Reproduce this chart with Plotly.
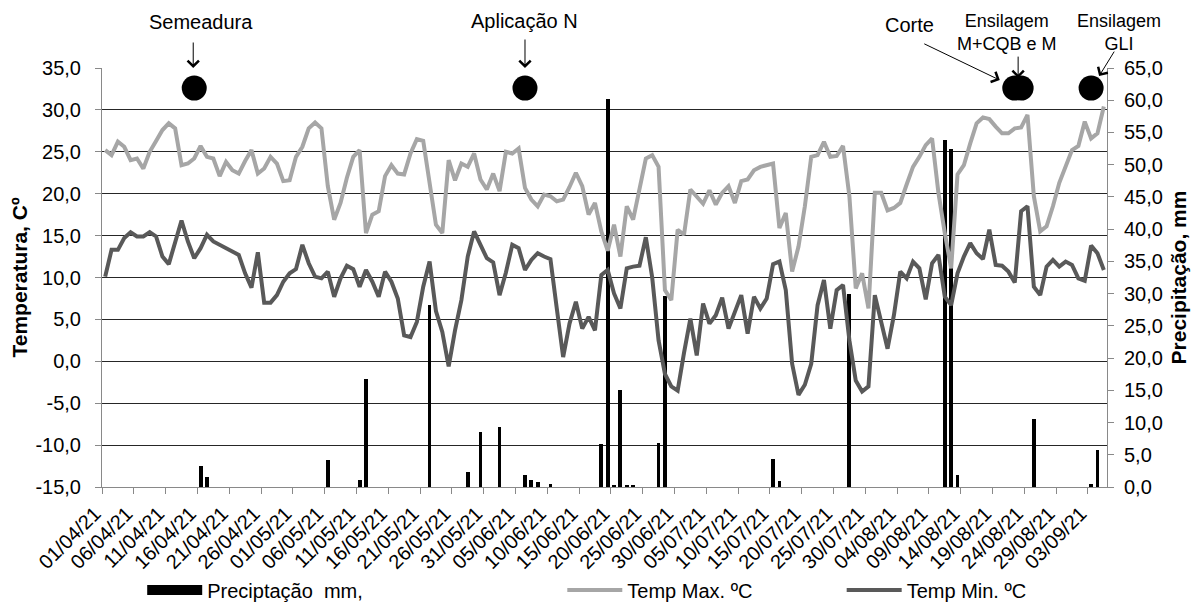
import pandas as pd
import plotly.graph_objects as go

# ---------------- data (daily, 01/04/21 .. 05/09/21) ----------------
start_date = "2021-04-01"

t_max = [25.2, 24.6, 26.2, 25.6, 24.0, 24.2, 23.0, 25.0, 26.3, 27.6,
         28.4, 27.8, 23.4, 23.6, 24.2, 25.7, 24.4, 24.2, 22.1, 23.8,
         22.8, 22.4, 23.9, 25.2, 22.4, 23.0, 24.4, 23.6, 21.5, 21.6,
         24.4, 25.6, 27.8, 28.5, 27.8, 20.9, 16.9, 18.9, 21.9, 24.4,
         25.2, 15.3, 17.5, 17.9, 22.1, 23.4, 22.4, 22.3, 24.8, 26.5,
         26.3, 20.9, 16.3, 15.3, 24.0, 21.6, 23.6, 23.2, 24.8, 21.7,
         20.5, 22.4, 20.3, 25.0, 24.8, 25.4, 20.7, 19.3, 18.5, 19.9,
         19.7, 19.1, 19.3, 20.8, 22.5, 20.9, 17.5, 18.9, 15.5, 13.2,
         16.3, 12.5, 18.5, 16.9, 20.5, 24.2, 24.6, 23.2, 8.5, 7.3,
         15.7, 15.1, 20.5, 19.7, 18.8, 20.4, 18.7, 20.1, 20.9, 18.9,
         21.5, 21.7, 22.8, 23.2, 23.4, 23.6, 15.9, 17.7, 10.7, 13.7,
         18.5, 24.4, 24.6, 26.2, 24.4, 24.5, 25.7, 19.7, 8.7, 10.5,
         6.3, 20.1, 20.1, 18.0, 18.3, 18.9, 21.1, 23.2, 24.4, 25.8,
         26.6, 20.1, 15.3, 11.1, 22.3, 23.4, 26.0, 28.4, 29.1, 28.9,
         28.0, 27.2, 27.2, 27.8, 27.9, 29.4, 19.7, 15.5, 16.1, 18.5,
         21.3, 23.4, 25.2, 25.7, 28.6, 26.6, 27.2, 30.4]

t_min = [10.1, 13.3, 13.3, 14.7, 15.4, 14.9, 14.9, 15.4, 14.9, 12.5,
         11.6, 14.3, 16.8, 14.3, 12.3, 13.5, 15.1, 14.3, 13.9, 13.4,
         13.0, 12.7, 10.5, 8.8, 13.0, 7.0, 7.0, 7.9, 9.5, 10.5,
         11.0, 13.9, 11.7, 10.1, 9.9, 10.7, 7.7, 9.9, 11.4, 11.0,
         8.9, 10.9, 9.5, 7.7, 10.7, 9.5, 7.5, 3.1, 2.9, 4.7,
         8.9, 11.9, 6.0, 3.5, -0.6, 3.7, 7.3, 12.5, 15.5, 13.9,
         12.3, 11.8, 7.9, 10.6, 13.9, 13.5, 10.9, 12.1, 12.9, 12.5,
         12.2, 6.3, 0.5, 4.5, 7.1, 3.9, 5.3, 3.7, 10.3, 10.9,
         8.1, 6.3, 11.1, 11.3, 11.4, 14.8, 10.0, 2.5, -1.5, -3.0,
         -3.5, 1.0, 5.1, 0.7, 6.9, 4.5, 5.5, 7.6, 3.9, 5.9,
         7.9, 3.3, 7.7, 6.3, 7.5, 11.6, 11.9, 8.5, -0.3, -4.0,
         -2.8, -0.3, 6.7, 9.7, 3.9, 8.5, 9.1, 2.5, -2.3, -3.6,
         -3.0, 7.9, 4.7, 1.5, 5.5, 10.7, 9.9, 11.9, 11.1, 7.4,
         11.7, 12.7, 7.7, 6.7, 10.5, 12.5, 14.1, 12.9, 12.2, 15.7,
         11.5, 11.4, 10.7, 9.4, 17.9, 18.5, 8.9, 7.9, 11.3, 12.1,
         11.3, 11.9, 11.5, 9.9, 9.6, 13.8, 12.9, 10.9]

precip = [0.0] * 15 + [3.2, 1.6] + [0.0] * 18 + [4.2] + [0.0] * 4 + [1.1, 16.8] + \
         [0.0] * 9 + [28.2] + [0.0] * 5 + [2.3, 0.0, 8.6, 0.0, 0.0, 9.3] + [0.0] * 3 + \
         [1.9, 1.1, 0.7, 0.0, 0.5] + [0.0] * 7 + [6.6, 60.2, 0.2, 15.0, 0.2, 0.2] + \
         [0.0] * 3 + [6.8, 29.6] + [0.0] * 16 + [4.4, 0.9] + [0.0] * 10 + [30.0] + \
         [0.0] * 14 + [53.9, 52.4, 1.9] + [0.0] * 11 + [10.5] + [0.0] * 8 + [0.4, 5.8, 0.0]

event_dates = ["2021-04-15 12:00", "2021-06-06 12:00", "2021-08-22 12:00",
               "2021-08-23 12:00", "2021-09-03 12:00"]
event_y = [32.6, 32.6, 32.6, 32.6, 32.6]

temp_ticks = [-15, -10, -5, 0, 5, 10, 15, 20, 25, 30, 35]
prec_ticks = [0, 5, 10, 15, 20, 25, 30, 35, 40, 45, 50, 55, 60, 65]

# ---------------- figure ----------------
dates = pd.date_range(start_date + " 12:00", periods=len(t_max), freq="D")
DAY = 86400000
FONT = "Liberation Sans, Arial, sans-serif"


def fmt(v):
    return f"{v:.1f}".replace(".", ",")


fig = go.Figure()
fig.add_trace(go.Bar(x=dates, y=precip, yaxis="y", marker=dict(color="black", line_width=0),
                     width=0.6 * DAY, name="Preciptação  mm,", showlegend=False,
                     legendgroup="p"))
fig.add_trace(go.Scatter(x=[None], y=[None], mode="lines", line=dict(color="black", width=10),
                         name="Preciptação  mm,", legend="legend", legendgroup="p"))
fig.add_trace(go.Scatter(x=dates, y=t_max, yaxis="y2", mode="lines",
                         line=dict(color="#A6A6A6", width=4), name="Temp Max. ºC",
                         legend="legend2"))
fig.add_trace(go.Scatter(x=dates, y=t_min, yaxis="y2", mode="lines",
                         line=dict(color="#595959", width=4), name="Temp Min. ºC",
                         legend="legend3"))
fig.add_trace(go.Scatter(x=pd.to_datetime(event_dates), y=event_y, yaxis="y2", mode="markers",
                         marker=dict(size=25, color="black"), showlegend=False,
                         hoverinfo="skip"))

ann = []


def arrow(d, y, xs, ys, ax, ay):
    ann.append(dict(x=d, y=y, xref="x", yref="y2", text="", showarrow=True,
                    arrowhead=4, arrowsize=2.2, arrowwidth=1, arrowcolor="black",
                    ax=ax, ay=ay, xshift=xs, yshift=ys, standoff=0, startstandoff=0))


def label(d, y, txt, xs, ys, size):
    ann.append(dict(x=d, y=y, xref="x", yref="y2", text=txt, showarrow=False,
                    xshift=xs, yshift=ys, font=dict(size=size, family=FONT, color="black"),
                    xanchor="center", yanchor="middle"))


arrow(event_dates[0], 35, -1, 0, 0, -27)
label(event_dates[0], 35, "Semeadura", 7, 46, 20)
arrow(event_dates[1], 35, 0, 0, 0, -30)
label(event_dates[1], 35, "Aplicação N", 0, 47, 20)
arrow(event_dates[2], 32.6, -15, 8, -77, -37)
label(event_dates[2], 32.6, "Corte", -105, 63, 20)
arrow(event_dates[3], 32.6, -3, 10, 0, -23)
label(event_dates[3], 32.6, "Ensilagem<br>M+CQB e M", -14, 56, 18)
arrow(event_dates[4], 32.6, 8, 12, 16, -26)
label(event_dates[4], 32.6, "Ensilagem<br>GLI", 28, 56, 18)

axis_common = dict(showline=True, linecolor="#898989", linewidth=1, ticks="outside",
                   ticklen=6, tickcolor="#898989", zeroline=False, automargin=False)

# the page body adds an 8 px margin, so the figure is sized to fit the 1200x606 window
fig.update_layout(
    width=1192, height=598,
    margin=dict(l=94, r=93, t=60, b=119, autoexpand=False),
    plot_bgcolor="white", paper_bgcolor="white",
    font=dict(family=FONT, size=20, color="black"),
    bargap=0,
    showlegend=True,
    annotations=ann,
    xaxis=dict(type="date", range=["2021-04-01", "2021-09-06"], tickmode="linear",
               tick0="2021-04-01", dtick=5 * DAY, tickformat="%d/%m/%y", tickangle=-45,
               showgrid=False, tickfont=dict(size=20), ticklabelshift=-7,
               **axis_common),
    yaxis=dict(range=[0, 65], side="right", tickmode="array", tickvals=prec_ticks,
               ticktext=[fmt(v) for v in prec_ticks], showgrid=False,
               ticklabelstandoff=6, tickfont=dict(size=20),
               title=dict(text="<b>Precipitação, mm</b>", standoff=9, font=dict(size=21)),
               **axis_common),
    yaxis2=dict(range=[-15, 35], overlaying="y", side="left", tickmode="array",
                tickvals=temp_ticks, ticktext=[fmt(v) for v in temp_ticks],
                showgrid=True, gridcolor="#262626", gridwidth=1, ticklabelstandoff=10,
                tickfont=dict(size=20),
                title=dict(text="<b>Temperatura, Cº</b>", standoff=2, font=dict(size=21)),
                **axis_common),
    legend=dict(x=0.040, y=-0.246, xanchor="left", yanchor="middle", orientation="h",
                itemwidth=55, font=dict(size=20), bgcolor="rgba(0,0,0,0)"),
    legend2=dict(x=0.458, y=-0.246, xanchor="left", yanchor="middle", orientation="h",
                 itemwidth=55, font=dict(size=20), bgcolor="rgba(0,0,0,0)"),
    legend3=dict(x=0.736, y=-0.246, xanchor="left", yanchor="middle", orientation="h",
                 itemwidth=55, font=dict(size=20), bgcolor="rgba(0,0,0,0)"),
)

fig.write_html("out.html")
